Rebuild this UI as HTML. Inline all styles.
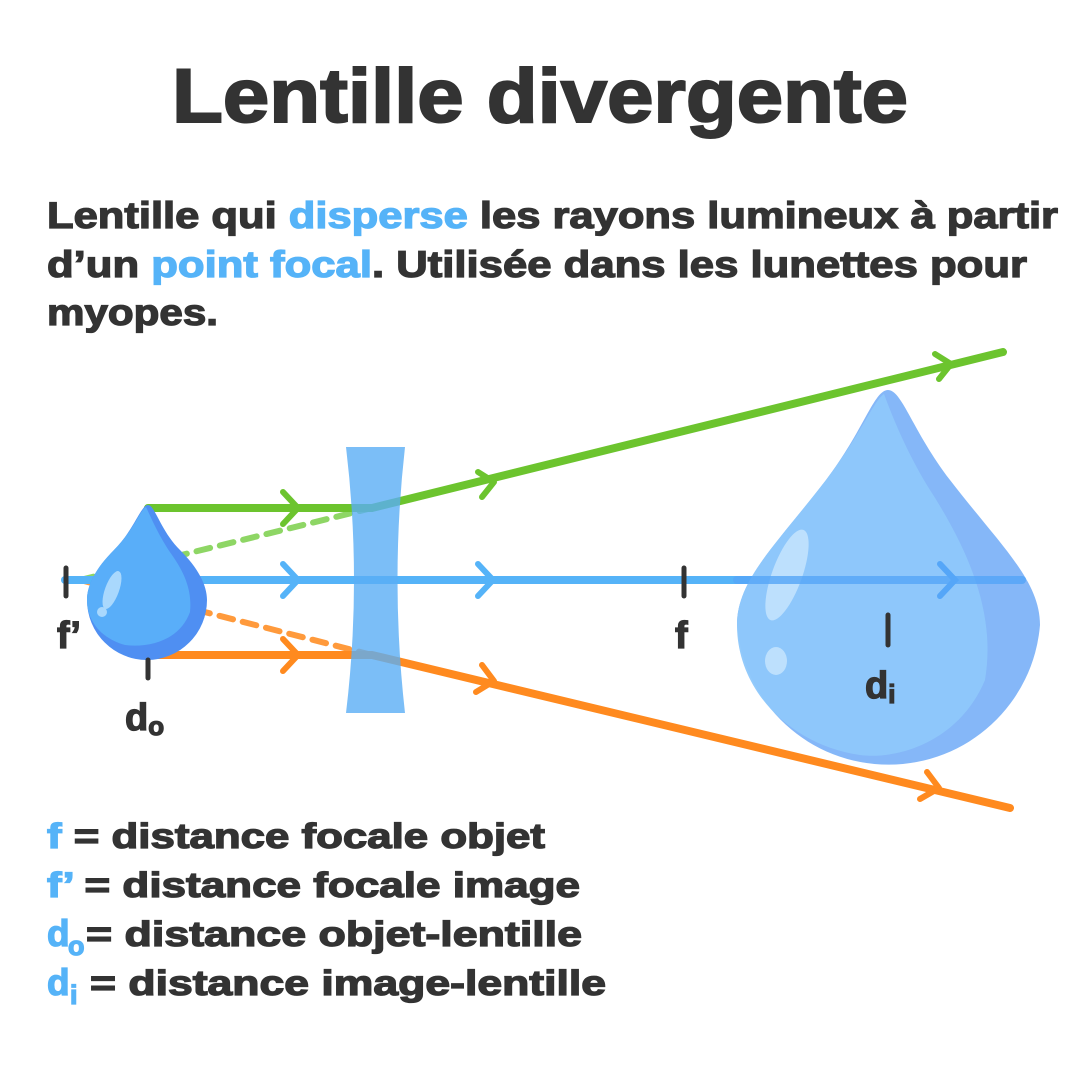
<!DOCTYPE html>
<html><head><meta charset="utf-8"><style>
html,body{margin:0;padding:0;background:#fff}
svg{display:block}
text{font-family:"Liberation Sans",sans-serif;font-weight:bold;fill:#333;stroke:#333;stroke-width:1.3;paint-order:stroke}
.b{fill:#55b3f8;stroke:#55b3f8}
</style></head><body>
<svg width="1080" height="1080" viewBox="0 0 1080 1080">
<text x="172" y="122" font-size="76" textLength="736" lengthAdjust="spacingAndGlyphs" style="stroke-width:2">Lentille divergente</text>
<text x="47" y="228" font-size="37" textLength="1011" lengthAdjust="spacingAndGlyphs">Lentille qui <tspan class="b">disperse</tspan> les rayons lumineux à partir</text>
<text x="47" y="277" font-size="37" textLength="980" lengthAdjust="spacingAndGlyphs">d’un <tspan class="b">point focal</tspan>. Utilisée dans les lunettes pour</text>
<text x="47" y="325" font-size="37" textLength="171" lengthAdjust="spacingAndGlyphs">myopes.</text>

<g fill="none" stroke-linecap="round" stroke-linejoin="round">
<line x1="80" y1="580" x2="372" y2="508" stroke="#8ed665" stroke-width="6" stroke-dasharray="14,10"/>
<line x1="80" y1="580" x2="372" y2="655" stroke="#ff9a3c" stroke-width="6" stroke-dasharray="14,10"/>
<polyline points="148,508 372,508 1003,352" stroke="#6cc42e" stroke-width="8"/>
<polyline points="148,655 372,655 1010,808" stroke="#ff8a1f" stroke-width="8"/>
<line x1="65" y1="580" x2="1022" y2="580" stroke="#55b3f8" stroke-width="8"/>
<polyline points="283,492 298,508 283,524" stroke="#6cc42e" stroke-width="6"/>
<polyline points="283,639 298,655 283,671" stroke="#ff8a1f" stroke-width="6"/>
<polyline points="283,564 298,580 283,596" stroke="#55b3f8" stroke-width="6"/>
<polyline points="478,564 493,580 478,596" stroke="#55b3f8" stroke-width="6"/>
<polyline points="478,472 494,482 482,497" stroke="#6cc42e" stroke-width="6"/>
<polyline points="482,665 494,681 476,692" stroke="#ff8a1f" stroke-width="6"/>
<polyline points="935,354 951,364 939,379" stroke="#6cc42e" stroke-width="6"/>
<polyline points="927,772 939,788 920,799" stroke="#ff8a1f" stroke-width="6"/>
</g>
<path d="M346 447 L405 447 Q390 580 405 713 L346 713 Q362 580 346 447Z" fill="#5aaef5" opacity="0.8"/>

<!-- small drop -->
<path d="M148 505 C155 505 160 530 180 550 C198 568 207 585 207 600 A60 60 0 0 1 87 600 C87 585 96 568 114 550 C134 530 141 505 148 505Z" fill="#4f8ff2"/>
<path d="M146 507 C150 515 158 535 172 555 C186 575 192 592 190 612 C180 640 150 648 125 645 C100 638 87 620 87 600 C87 585 96 568 114 550 C134 530 140 510 146 507Z" fill="#59aef9"/>
<ellipse cx="112" cy="590" rx="7" ry="20" fill="#a9d8fd" transform="rotate(20 112 590)"/>
<circle cx="102" cy="612" r="5" fill="#a9d8fd"/>

<!-- big drop -->
<path d="M888 390 C902 390 912 430 950 480 C1000 545 1040 580 1040 625 A152 152 0 0 1 737 625 C737 580 776 545 826 480 C864 430 874 390 888 390Z" fill="#80b4f8" opacity="0.96"/>
<path d="M884 394 C890 410 905 450 930 490 C975 560 995 620 985 680 C960 740 900 760 860 755 C790 745 737 690 737 625 C737 580 776 545 826 480 C860 436 874 400 884 394Z" fill="#8fc8fb" opacity="0.96"/>
<ellipse cx="787" cy="575" rx="15" ry="48" fill="#bde0fd" transform="rotate(20 787 575)"/>
<ellipse cx="776" cy="661" rx="11" ry="14" fill="#bde0fd"/>
<line x1="737" y1="580" x2="1022" y2="580" stroke="#55a6f8" stroke-width="8" opacity="0.8" stroke-linecap="round"/>
<polyline points="940,564 955,580 940,596" fill="none" stroke="#55a6f8" stroke-width="6" stroke-linecap="round"/>

<g stroke="#333" stroke-width="5" stroke-linecap="round">
<line x1="66" y1="568" x2="66" y2="596"/>
<line x1="148" y1="660" x2="148" y2="678"/>
<line x1="684" y1="568" x2="684" y2="596"/>
<line x1="888" y1="615" x2="888" y2="645"/>
</g>
<text x="57" y="648" font-size="38">f’</text>
<text x="675" y="648" font-size="38">f</text>
<text x="125" y="730" font-size="38">d<tspan font-size="26" dy="5">o</tspan></text>
<text x="865" y="698" font-size="38">d<tspan font-size="26" dy="5">i</tspan></text>

<text x="47" y="848" font-size="35" textLength="498" lengthAdjust="spacingAndGlyphs"><tspan class="b">f</tspan> = distance focale objet</text>
<text x="47" y="897" font-size="35" textLength="533" lengthAdjust="spacingAndGlyphs"><tspan class="b">f’</tspan> = distance focale image</text>
<text x="47" y="946" font-size="37"><tspan class="b">d</tspan></text>
<text x="68" y="955" font-size="27" class="b">o</text>
<text x="86" y="946" font-size="35" textLength="496" lengthAdjust="spacingAndGlyphs">= distance objet-lentille</text>
<text x="47" y="995" font-size="37"><tspan class="b">d</tspan></text>
<text x="70" y="1004" font-size="27" class="b">i</text>
<text x="90" y="995" font-size="35" textLength="516" lengthAdjust="spacingAndGlyphs">= distance image-lentille</text>
</svg>
</body></html>
